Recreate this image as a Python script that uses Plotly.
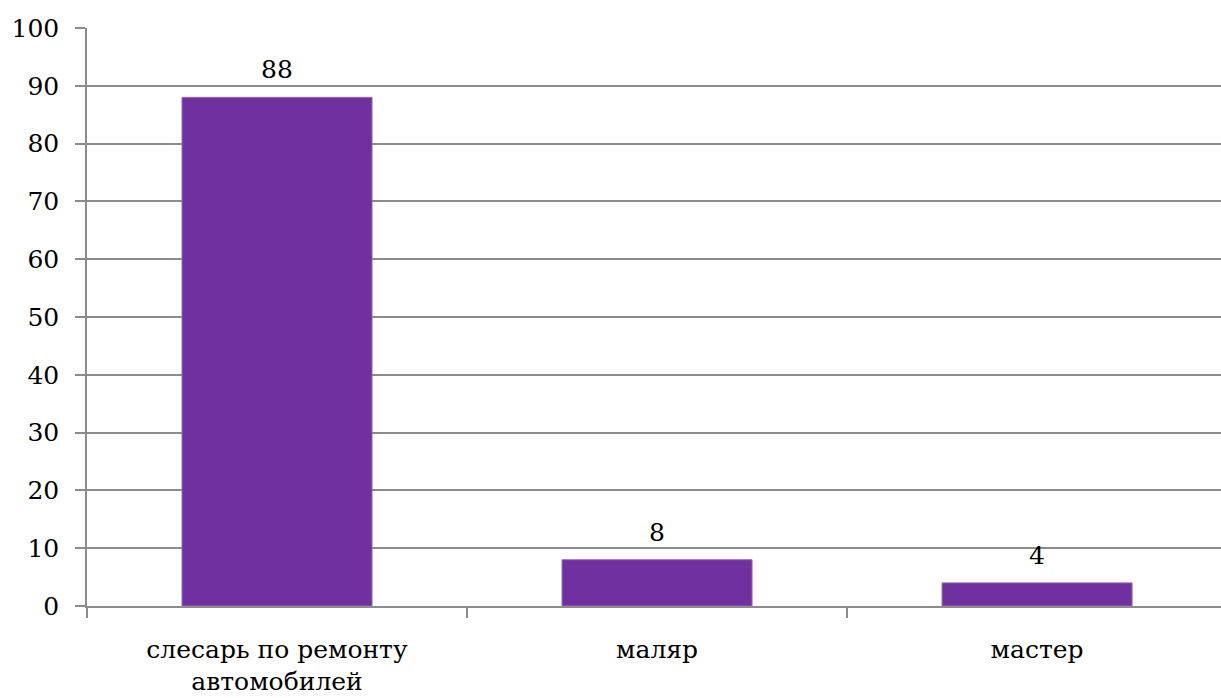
import plotly.graph_objects as go

# Professions and share of respondents, %
categories = ["слесарь по ремонту<br>автомобилей", "маляр", "мастер"]
values = [88, 8, 4]
y_ticks = [0, 10, 20, 30, 40, 50, 60, 70, 80, 90, 100]

font_family = "DejaVu Serif"
axis_gray = "#8c8c8c"

fig = go.Figure(
    go.Bar(
        x=categories,
        y=values,
        width=0.5,
        marker=dict(color="#7030A0", line=dict(color="#9268b8", width=1)),
        hoverinfo="x+y",
    )
)

# value labels above each bar
for cat, val in zip(categories, values):
    fig.add_annotation(
        x=cat,
        y=val,
        text=str(val),
        showarrow=False,
        yanchor="bottom",
        yshift=11,
        font=dict(family=font_family, size=25, color="#000000"),
    )

fig.update_layout(
    width=1221,
    height=698,
    margin=dict(l=87, r=0, t=28, b=92),
    paper_bgcolor="white",
    plot_bgcolor="white",
    showlegend=False,
    font=dict(family=font_family, size=25, color="#000000"),
)

fig.update_xaxes(
    type="category",
    range=[-0.5, 2.484],
    showgrid=False,
    showline=True,
    linecolor=axis_gray,
    linewidth=1.5,
    ticks="outside",
    tickson="boundaries",
    ticklen=10,
    tickcolor=axis_gray,
    tickwidth=1.5,
    ticklabelstandoff=20,
    tickfont=dict(family=font_family, size=25, color="#000000"),
)

fig.update_yaxes(
    range=[0, 100],
    tickvals=y_ticks,
    showgrid=True,
    gridcolor=axis_gray,
    gridwidth=1.5,
    zeroline=False,
    showline=True,
    linecolor=axis_gray,
    linewidth=1.5,
    ticks="outside",
    ticklen=10,
    tickcolor=axis_gray,
    tickwidth=1.5,
    ticklabelstandoff=11,
    tickfont=dict(family=font_family, size=25, color="#000000"),
)

fig.write_html("out.html")
